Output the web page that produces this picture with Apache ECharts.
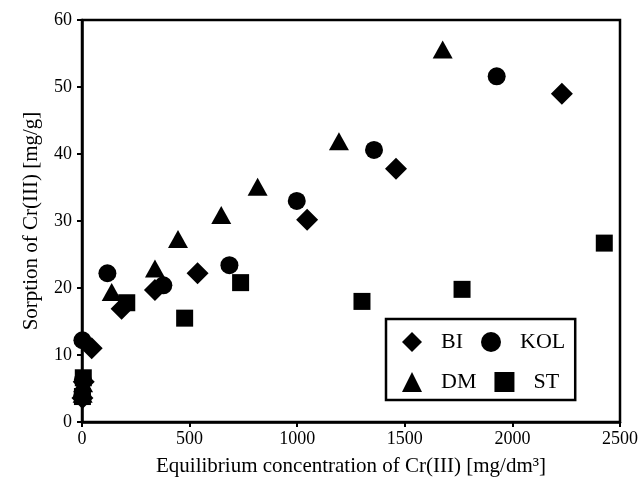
<!DOCTYPE html>
<html>
<head>
<meta charset="utf-8">
<script src="https://cdn.jsdelivr.net/npm/echarts@6/dist/echarts.min.js"></script>
<style>html,body{margin:0;padding:0;background:#fff}#c{width:640px;height:486px}</style>
</head>
<body>
<div id="c"></div>
<script>
const seriesNames = ['BI', 'KOL', 'DM', 'ST'];
const BI = [[2,3.6],[8,6.0],[45,11.0],[184,16.9],[339,19.7],[537,22.2],[1046,30.2],[1459,37.8],[2230,49.0]];
const KOL = [[1,3.9],[4,6.3],[2,12.2],[118,22.2],[378,20.4],[685,23.4],[998,33.0],[1357,40.6],[1927,51.6]];
const DM = [[3,4.2],[5,5.8],[138,19.4],[339,22.9],[446,27.3],[647,30.9],[816,35.1],[1194,41.9],[1676,55.6]];
const ST = [[2,3.8],[6,6.6],[208,17.8],[477,15.5],[737,20.8],[1301,18.0],[1766,19.8],[2427,26.7]];
const xTicks = [0, 500, 1000, 1500, 2000, 2500];
const yTicks = [0, 10, 20, 30, 40, 50, 60];
const xTitle = 'Equilibrium concentration of Cr(III) [mg/dm³]';
const yTitle = 'Sorption of Cr(III) [mg/g]';

const font = 'Liberation Serif';
const chart = echarts.init(document.getElementById('c'));
const symbols = {BI: 'diamond', KOL: 'circle', DM: 'triangle', ST: 'rect'};
const sizes = {BI: 22, KOL: 18, DM: [20, 18], ST: 17};
const dataMap = {BI, KOL, DM, ST};

chart.setOption({
  backgroundColor: '#fff',
  animation: false,
  grid: {left: 82, right: 20, top: 20, bottom: 64, show: true, borderColor: '#000', borderWidth: 2.5, containLabel: false, outerBoundsMode: 'none'},
  xAxis: {
    type: 'value', min: xTicks[0], max: xTicks[xTicks.length - 1], interval: 500,
    name: xTitle, nameLocation: 'middle', nameGap: 34,
    nameTextStyle: {fontFamily: font, fontSize: 21, color: '#000'},
    axisLine: {show: true, lineStyle: {color: '#000', width: 2.5}},
    axisTick: {show: true, inside: false, length: 5, lineStyle: {color: '#000', width: 2}},
    axisLabel: {fontFamily: font, fontSize: 18, color: '#000', margin: 8, formatter: v => String(v)},
    splitLine: {show: false}
  },
  yAxis: {
    type: 'value', min: yTicks[0], max: yTicks[yTicks.length - 1], interval: 10,
    name: yTitle, nameLocation: 'middle', nameGap: 40,
    nameTextStyle: {fontFamily: font, fontSize: 21, color: '#000'},
    axisLine: {show: true, lineStyle: {color: '#000', width: 2.5}},
    axisTick: {show: true, inside: false, length: 5, lineStyle: {color: '#000', width: 2}},
    axisLabel: {fontFamily: font, fontSize: 18, color: '#000', margin: 10, formatter: v => String(v)},
    splitLine: {show: false}
  },
  legend: {
    left: 386, top: 319, width: 200,
    orient: 'horizontal',
    padding: [12, 10, 7, 16],
    borderColor: '#000', borderWidth: 2.5,
    itemWidth: 20, itemHeight: 20, itemGap: 18,
    symbolKeepAspect: true,
    data: seriesNames.map(n => ({name: n, icon: symbols[n]})),
    textStyle: {fontFamily: font, fontSize: 22, color: '#000', width: 44, padding: [0, 0, 0, 14]},
    itemStyle: {color: '#000'}
  },
  series: seriesNames.map(n => ({
    name: n, type: 'scatter', data: dataMap[n],
    symbol: symbols[n], symbolSize: sizes[n], symbolKeepAspect: true, clip: false,
    itemStyle: {color: '#000', opacity: 1}
  }))
});
</script>
</body>
</html>
